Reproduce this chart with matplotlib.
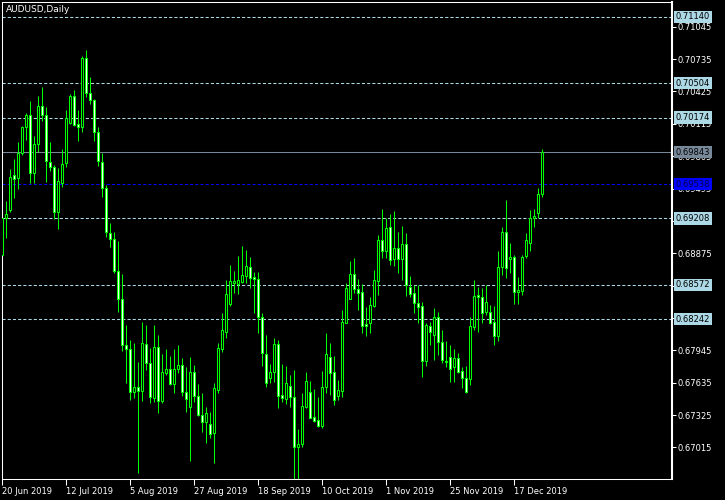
import numpy as np
import matplotlib
matplotlib.use('Agg')
import matplotlib.pyplot as plt

# AUDUSD daily candles, first bar 20 Jun 2019
opens = [0.68858, 0.69210, 0.69289, 0.69622, 0.69593, 0.69832, 0.70081, 0.70196, 0.69641, 0.69919,
         0.70283, 0.70196, 0.69750, 0.69704, 0.69267, 0.69551, 0.69737, 0.70120, 0.70381, 0.70110,
         0.70081, 0.70743, 0.70407, 0.70340, 0.70034, 0.69752, 0.69497, 0.69070, 0.69009, 0.68708,
         0.68434, 0.67999, 0.67955, 0.67549, 0.67591, 0.67558, 0.68005, 0.67820, 0.67490, 0.67975,
         0.67462, 0.67730, 0.67763, 0.67625, 0.67763, 0.67801, 0.67549, 0.67400, 0.67740, 0.67507,
         0.67325, 0.67261, 0.67239, 0.67150, 0.67565, 0.67961, 0.68124, 0.68390, 0.68593, 0.68580,
         0.68602, 0.68660, 0.68740, 0.68645, 0.68628, 0.68261, 0.67910, 0.67680, 0.67734, 0.68003,
         0.67517, 0.67476, 0.67606, 0.67495, 0.67022, 0.67045, 0.67399, 0.67543, 0.67303, 0.67275,
         0.67223, 0.67596, 0.67878, 0.67734, 0.67510, 0.67558, 0.68209, 0.68440, 0.68673, 0.68530,
         0.68501, 0.68197, 0.68209, 0.68369, 0.68612, 0.69002, 0.68899, 0.69124, 0.68817, 0.68922,
         0.68823, 0.68961, 0.68549, 0.68491, 0.68395, 0.68369, 0.67846, 0.68180, 0.68092, 0.68261,
         0.68022, 0.67846, 0.67884, 0.67788, 0.67869, 0.67747, 0.67677, 0.67673, 0.68171, 0.68475,
         0.68453, 0.68315, 0.68309, 0.68219, 0.68085, 0.68746, 0.69076, 0.68817, 0.68836, 0.68501,
         0.68516, 0.68851, 0.68970, 0.69210, 0.69263, 0.69439]
highs = [0.69222, 0.69375, 0.69679, 0.69778, 0.69941, 0.70090, 0.70216, 0.70333, 0.69995, 0.70381,
         0.70468, 0.70273, 0.69941, 0.69720, 0.69689, 0.69871, 0.70247, 0.70401, 0.70439, 0.70247,
         0.70767, 0.70822, 0.70563, 0.70350, 0.70081, 0.69832, 0.69529, 0.69162, 0.69076, 0.68992,
         0.68676, 0.68188, 0.68044, 0.68012, 0.67836, 0.68219, 0.68188, 0.67964, 0.68188, 0.68092,
         0.67910, 0.67958, 0.67891, 0.67958, 0.67996, 0.67869, 0.67782, 0.67878, 0.67804, 0.67622,
         0.67533, 0.67405, 0.67357, 0.67635, 0.68012, 0.68300, 0.68619, 0.68762, 0.68705, 0.68849,
         0.68944, 0.68906, 0.68836, 0.68692, 0.68692, 0.68305, 0.68092, 0.67814, 0.68066, 0.68044,
         0.67814, 0.67795, 0.67708, 0.67756, 0.67191, 0.67533, 0.67734, 0.67651, 0.67574, 0.67495,
         0.67747, 0.68108, 0.68012, 0.67891, 0.67661, 0.68331, 0.68587, 0.68801, 0.68826, 0.68625,
         0.68580, 0.68363, 0.68453, 0.68714, 0.69050, 0.69299, 0.69210, 0.69251, 0.69280, 0.69078,
         0.69136, 0.69072, 0.68657, 0.68571, 0.68571, 0.68405, 0.68204, 0.68219, 0.68348, 0.68309,
         0.68140, 0.68034, 0.67996, 0.67955, 0.67916, 0.67782, 0.67795, 0.68261, 0.68619, 0.68554,
         0.68539, 0.68571, 0.68377, 0.68369, 0.68896, 0.69125, 0.69385, 0.68970, 0.68858, 0.68645,
         0.68858, 0.69066, 0.69289, 0.69296, 0.69497, 0.69874]
lows = [0.68791, 0.69024, 0.69273, 0.69407, 0.69490, 0.69816, 0.69960, 0.69545, 0.69551, 0.69842,
        0.70142, 0.69560, 0.69666, 0.69200, 0.69104, 0.69512, 0.69704, 0.70115, 0.70094, 0.69953,
        0.70039, 0.70369, 0.70302, 0.69953, 0.69711, 0.69417, 0.69028, 0.68938, 0.68683, 0.68315,
        0.67941, 0.67629, 0.67469, 0.67485, 0.66773, 0.67462, 0.67756, 0.67443, 0.67453, 0.67347,
        0.67437, 0.67708, 0.67613, 0.67539, 0.67731, 0.67507, 0.67357, 0.66888, 0.67453, 0.67316,
        0.67165, 0.67060, 0.67102, 0.66868, 0.67539, 0.67932, 0.68066, 0.68372, 0.68491, 0.68482,
        0.68587, 0.68587, 0.68539, 0.68300, 0.68114, 0.67795, 0.67596, 0.67629, 0.67644, 0.67389,
        0.67453, 0.67431, 0.67405, 0.66715, 0.66715, 0.67022, 0.67389, 0.67294, 0.67261, 0.67213,
        0.67201, 0.67533, 0.67517, 0.67421, 0.67469, 0.67501, 0.68204, 0.68434, 0.68497, 0.68331,
        0.68108, 0.68082, 0.68108, 0.68357, 0.68475, 0.68826, 0.68826, 0.68762, 0.68753, 0.68689,
        0.68619, 0.68465, 0.68459, 0.68300, 0.68209, 0.67692, 0.67795, 0.67996, 0.67853, 0.67900,
        0.67826, 0.67788, 0.67637, 0.67637, 0.67725, 0.67587, 0.67539, 0.67613, 0.68140, 0.68124,
        0.68204, 0.68284, 0.68197, 0.67996, 0.68037, 0.68667, 0.68635, 0.68683, 0.68386, 0.68386,
        0.68475, 0.68826, 0.68899, 0.69125, 0.69210, 0.69411]
closes = [0.69213, 0.69248, 0.69603, 0.69589, 0.69838, 0.70081, 0.70196, 0.69641, 0.69919, 0.70283,
          0.70196, 0.69756, 0.69704, 0.69267, 0.69570, 0.69727, 0.70168, 0.70381, 0.70104, 0.70087,
          0.70743, 0.70407, 0.70343, 0.70039, 0.69756, 0.69497, 0.69076, 0.69009, 0.68708, 0.68434,
          0.67999, 0.67961, 0.67549, 0.67591, 0.67558, 0.68012, 0.67826, 0.67495, 0.67980, 0.67462,
          0.67734, 0.67763, 0.67622, 0.67763, 0.67801, 0.67549, 0.67476, 0.67740, 0.67507, 0.67325,
          0.67261, 0.67347, 0.67143, 0.67581, 0.67964, 0.68140, 0.68485, 0.68609, 0.68609, 0.68619,
          0.68667, 0.68753, 0.68635, 0.68628, 0.68261, 0.67916, 0.67629, 0.67734, 0.68003, 0.67507,
          0.67485, 0.67635, 0.67495, 0.67022, 0.67045, 0.67412, 0.67651, 0.67299, 0.67271, 0.67223,
          0.67596, 0.67907, 0.67725, 0.67469, 0.67565, 0.68213, 0.68539, 0.68673, 0.68530, 0.68497,
          0.68181, 0.68178, 0.68376, 0.68619, 0.69002, 0.68899, 0.69114, 0.68810, 0.68922, 0.68817,
          0.68961, 0.68571, 0.68485, 0.68395, 0.68363, 0.67846, 0.68188, 0.68117, 0.68261, 0.68022,
          0.67853, 0.67836, 0.67763, 0.67869, 0.67740, 0.67677, 0.67549, 0.68178, 0.68465, 0.68459,
          0.68305, 0.68405, 0.68209, 0.68085, 0.68740, 0.69076, 0.68736, 0.68836, 0.68501, 0.68523,
          0.68842, 0.69002, 0.69210, 0.69232, 0.69442, 0.69843]

date_labels = ['20 Jun 2019', '12 Jul 2019', '5 Aug 2019', '27 Aug 2019', '18 Sep 2019',
               '10 Oct 2019', '1 Nov 2019', '25 Nov 2019', '17 Dec 2019']
y_ticks = [0.67015, 0.67325, 0.67635, 0.67945, 0.68255, 0.68565, 0.68875,
           0.69185, 0.69495, 0.69805, 0.70115, 0.70425, 0.70735, 0.71045]
levels = [0.71140, 0.70504, 0.70174, 0.69208, 0.68572, 0.68242]
last_price = 0.69843
blue_level = 0.69538

opens = np.array(opens)
highs = np.array(highs)
lows = np.array(lows)
closes = np.array(closes)
x = np.arange(len(opens))

fig = plt.figure(figsize=(7.25, 5), dpi=100, facecolor='black')
ax = fig.add_axes([2.3 / 725, 20.7 / 500, 670 / 725, 477 / 500])
ax.set_facecolor('black')

# level lines
for lv in levels:
    ax.axhline(lv, color='#add8e6', lw=0.75, ls=(0, (3, 2)), zorder=1)
ax.axhline(last_price, color='#778899', lw=0.75, zorder=1)
ax.axhline(blue_level, color='#0000ff', lw=0.75, ls=(0, (3, 2)), zorder=1)

# candles
up = closes >= opens
ax.vlines(x, lows, highs, color='#00ff00', lw=0.75, zorder=2)
body_h = np.maximum(np.abs(closes - opens), 0.00002)
ax.bar(x, body_h, bottom=np.minimum(opens, closes), width=0.5,
       color=np.where(up, 'black', 'white'), edgecolor='#00ff00', lw=0.75, zorder=3)

ax.set_xlim(0, 167.5)
ax.set_ylim(0.66709, 0.71279)

ax.yaxis.tick_right()
ax.set_yticks(y_ticks)
ax.set_yticklabels([f'{v:.5f}' for v in y_ticks])
ax.tick_params(axis='y', colors='white', labelsize=6, length=3, width=0.75, pad=1)

ax.set_xticks(np.arange(len(date_labels)) * 16)
ax.set_xticklabels(date_labels, ha='left')
ax.tick_params(axis='x', colors='white', labelsize=6, length=4, width=0.75, pad=1.5)

for s in ax.spines.values():
    s.set_color('white')
    s.set_linewidth(0.75)
ax.spines['right'].set_linewidth(1.5)

# price boxes on the right
def price_box(v, fc, tc='black'):
    ax.annotate(f'{v:.5f}', xy=(1, v), xycoords=('axes fraction', 'data'),
                xytext=(2.5, 0), textcoords='offset points', va='center', ha='left',
                fontsize=6, color=tc, zorder=10, annotation_clip=False,
                bbox=dict(boxstyle='square,pad=0.2', fc=fc, ec='none'))

for lv in levels:
    price_box(lv, '#add8e6')
price_box(last_price, '#778899')
price_box(blue_level, '#0000ff', '#000040')

fig.text(6 / 725, 1 - 10 / 500, 'AUDUSD,Daily', color='white', fontsize=6.5, va='center')

fig.savefig('out.png', dpi=100, facecolor='black')
